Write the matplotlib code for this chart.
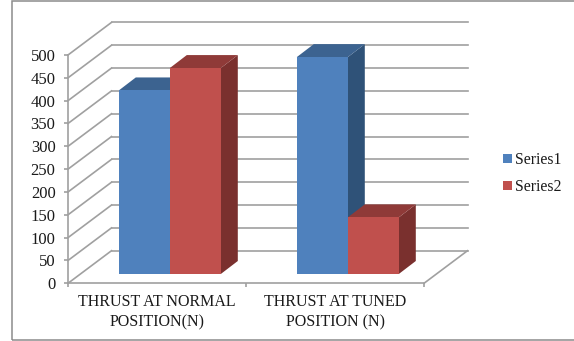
import matplotlib
matplotlib.use("Agg")
import matplotlib.pyplot as plt
from matplotlib.patches import Polygon, Rectangle

categories = ["THRUST AT NORMAL\nPOSITION(N)", "THRUST AT TUNED\nPOSITION (N)"]
series1 = [402, 475]
series2 = [451, 124]
y_ticks = [0, 50, 100, 150, 200, 250, 300, 350, 400, 450, 500]

W, H = 574, 341
GRID = "#a0a0a0"
BLUE = ("#4f81bd", "#3c6390", "#2f5278")
RED = ("#c0504d", "#8f3a38", "#7a302e")

plt.rcParams["font.family"] = ["Liberation Serif", "DejaVu Serif"]

fig = plt.figure(figsize=(W / 100, H / 100), dpi=100)
# axes box is the front plane of the 3-D chart, in pixel fractions
ax = fig.add_axes([68 / W, 1 - 283.3 / H, 356 / W, 228.3 / H])
ax.set_xlim(0, 2)
ax.set_ylim(0, 500)
ax.patch.set_visible(False)

PX = 2 / 356  # x units per pixel
PY = 500 / 228.3  # y units per pixel
wall_dx, wall_dy = 43.5 * PX, 32.6 * PY
base_dx, base_dy = 12.8 * PX, 9.3 * PY
depth_dx, depth_dy = 17 * PX, 13 * PY
bar_w = 51 * PX


def shape(points, color, z):
    ax.add_patch(Polygon(points, closed=True, facecolor=color, edgecolor="none",
                         clip_on=False, zorder=z))


# back wall gridlines and the slanted side-wall lines
for v in y_ticks:
    ax.plot([wall_dx, 2 + wall_dx], [v + wall_dy] * 2, color=GRID, lw=1.2,
            clip_on=False, zorder=1)
    ax.plot([0, wall_dx], [v, v + wall_dy], color=GRID, lw=1.2,
            clip_on=False, zorder=1)
ax.plot([2, 2 + wall_dx], [0, wall_dy], color=GRID, lw=1.2, clip_on=False, zorder=1)

# bars: front face with ax.bar, top and side as parallelograms
for i in range(len(categories)):
    centre = i + 0.5 + base_dx
    for vals, cols, name, z in ((series1, BLUE, "Series1", 3), (series2, RED, "Series2", 4)):
        v = vals[i]
        x0 = centre - bar_w if name == "Series1" else centre
        x1 = x0 + bar_w
        top = base_dy + v
        shape([(x1, base_dy), (x1 + depth_dx, base_dy + depth_dy),
               (x1 + depth_dx, top + depth_dy), (x1, top)], cols[2], z)
        shape([(x0, top), (x0 + depth_dx, top + depth_dy),
               (x1 + depth_dx, top + depth_dy), (x1, top)], cols[1], z)
        ax.bar(x0, v, width=bar_w, bottom=base_dy, align="edge", color=cols[0],
               clip_on=False, zorder=z + 0.5, label=name)

for name in ("top", "right"):
    ax.spines[name].set_visible(False)
for name in ("left", "bottom"):
    ax.spines[name].set_color(GRID)
    ax.spines[name].set_linewidth(1.2)
    ax.spines[name].set_zorder(2)

ax.set_yticks(y_ticks)
ax.set_xticks([0, 1, 2])
ax.set_xticklabels([])
ax.set_xticks([0.5, 1.5], categories, minor=True, fontsize=11.5, color="#1a1a1a",
              linespacing=1.3)
ax.tick_params(axis="x", which="major", length=3, color=GRID, width=1.2)
ax.tick_params(axis="x", which="minor", length=0, pad=8)
ax.tick_params(axis="y", length=3, color=GRID, width=1.2, pad=6,
               labelsize=12, labelcolor="#1a1a1a")

handles, labels = ax.get_legend_handles_labels()
ax.legend(handles[:2], labels[:2], loc="center left", frameon=False,
          bbox_to_anchor=(435 / 356, (283.3 - 173.5) / 228.3), fontsize=11.3,
          handlelength=0.55, handleheight=0.55, handletextpad=0.2,
          labelspacing=0.7, borderaxespad=0, borderpad=0, labelcolor="#1a1a1a")

# outer chart border, open on the right where it runs off the canvas
fig.add_artist(Rectangle((11.5 / W, 1 / H), 575 / W, 339 / H, fill=False,
                         edgecolor="#8c8c8c", lw=1.1, transform=fig.transFigure))

fig.savefig("out.png", dpi=100)
